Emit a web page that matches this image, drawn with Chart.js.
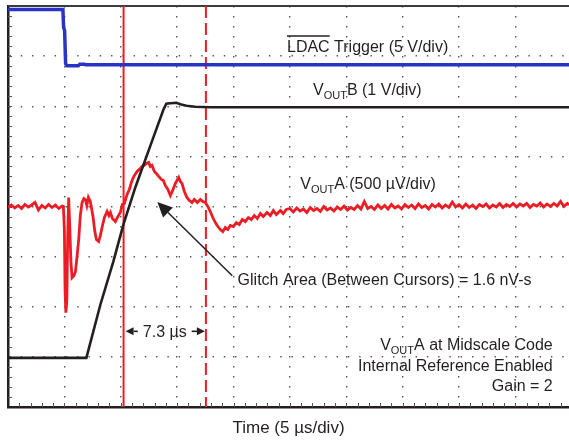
<!DOCTYPE html>
<html>
<head>
<meta charset="utf-8">
<title>VOUTA glitch</title>
<script src="https://cdn.jsdelivr.net/npm/chart.js@4.4.1/dist/chart.umd.min.js"></script>
<style>
  html, body { margin: 0; padding: 0; background: #fff; overflow: hidden; }
  canvas { display: block; }
</style>
</head>
<body>
<canvas id="scope" width="569" height="443"></canvas>
<script>
// Scope screen: time in µs (5 µs/div), t = 0 at the LDAC falling edge
const xGridTimes = [-5, 0, 5, 10, 15, 20, 25, 30, 35, 40];
const cursorTimes = [5.25, 12.55];

// LDAC trigger, volts (5 V/div)
const ldacTime  = [-5, -0.13, -0.07, 0.02, 0.11, 0.22, 1.24, 1.37, 1.77, 1.86, 44.75];
const ldacVolts = [5.5, 5.5, 3.7, 3.4, 0.1, -0.1, -0.1, 0.05, 0.05, 0, 0];

// VOUTB, volts (1 V/div)
const voutBTime  = [-5, 1.95, 3.19, 4.34, 5.23, 6.29, 7.62, 8.78, 9.04, 9.40, 9.93, 10.28, 10.82, 11.61, 12.94, 44.75];
const voutBVolts = [0, 0, 1.06, 1.92, 2.66, 3.40, 4.23, 4.95, 5.07, 5.08, 5.09, 5.06, 5.03, 5.01, 5.00, 5.00];

// VOUTA, µV around midscale (500 µV/div)
const voutATime = [
  -5, -4.7, -4.4, -4.1, -3.8, -3.5, -3.2, -2.9, -2.6, -2.3, -2.0, -1.7, -1.4, -1.1, -0.8, -0.5, -0.2, -0.09,
  0.0, 0.06, 0.13, 0.22, 0.29, 0.38, 0.47, 0.58, 0.68, 0.84,
  0.98, 1.11, 1.27, 1.42, 1.57, 1.73, 1.86, 1.99, 2.13, 2.30,
  2.54, 2.70, 2.84, 3.04, 3.19, 3.34, 3.55, 3.79, 3.95, 4.08,
  4.26, 4.52, 4.70, 4.96, 5.14, 5.32, 5.56, 5.76, 6.00, 6.21,
  6.45, 6.65, 6.89, 7.09, 7.27, 7.47, 7.62, 7.77, 7.98, 8.16,
  8.36, 8.60, 8.78, 8.95, 9.18, 9.40, 9.57, 9.84, 10.14, 10.28,
  10.43, 10.64, 10.87, 11.08, 11.32, 11.52, 11.79, 12.06, 12.28, 12.50,
  12.72, 12.94, 13.16, 13.39, 13.61, 13.83, 14.05, 14.27, 14.49, 14.72,
  14.98, 15.25, 15.51, 15.78, 16.05, 16.31, 16.58, 16.84, 17.11, 17.38,
  17.64, 17.97, 18.26, 18.53, 18.79, 19.15, 19.41, 19.68,
  20, 20.3, 20.6, 20.9, 21.2, 21.5, 21.8, 22.1, 22.4, 22.7,
  23, 23.3, 23.6, 23.9, 24.2, 24.5, 24.8, 25.1, 25.4, 25.7,
  26, 26.3, 26.6, 26.9, 27.2, 27.5, 27.8, 28.1, 28.4, 28.7,
  29, 29.3, 29.6, 29.9, 30.2, 30.5, 30.8, 31.1, 31.4, 31.7,
  32, 32.3, 32.6, 32.9, 33.2, 33.5, 33.8, 34.1, 34.4, 34.7,
  35, 35.3, 35.6, 35.9, 36.2, 36.5, 36.8, 37.1, 37.4, 37.7,
  38, 38.3, 38.6, 38.9, 39.2, 39.5, 39.8, 40.1, 40.4, 40.7,
  41, 41.3, 41.6, 41.9, 42.2, 42.5, 42.8, 43.1, 43.4, 43.7,
  44, 44.3, 44.6, 44.75
];
const voutAMicroV = [
  -10, 15, -15, 10, -20, 20, -5, 15, 40, -35, 10, -15, 20, -10, 15, -20, 5, 0,
  -230, -830, -1060, -930, -330, 90, -180, -550, -710, -690,
  -650, -510, -330, -80, 40, 80, 70, 10, 90, 50,
  -100, -250, -330, -350, -290, -210, -110, -50, -90, -60,
  -120, -150, -110, -60, 20, 30, 120, 170, 260, 310,
  350, 370, 400, 410, 430, 440, 400, 410, 350, 330,
  300, 270, 260, 210, 170, 110, 150, 230, 290, 250,
  230, 150, 90, 60, 40, 70, 40, 70, 50, 40,
  0, -50, -110, -160, -200, -230, -250, -210, -230, -190,
  -200, -160, -180, -130, -150, -110, -130, -90, -120, -70,
  -100, -60, -90, -40, -80, -40, -70, -30,
  -20, -55, -15, -45, -25, -60, -10, -40, -20, -50,
  0, -35, -15, -45, -5, -30, 5, -35, -10, -30,
  10, -25, 50, -20, 0, -30, 15, -20, 10, -25,
  20, -15, 5, -25, 20, -10, 15, -20, 25, -10,
  10, -25, 20, -5, 25, -15, 15, -10, 45, -5,
  20, -15, 25, -10, 15, -20, 20, 0, 25, -15,
  15, -5, 30, -10, 20, 0, 30, -5, 25, 5,
  30, -10, 20, 5, 35, -5, 25, 0, 30, 5,
  50, 0, 30, 15
];

// where each channel sits on the screen (divisions from bottom) and units per division
const chLdac = {offset: 6.83, perDiv: 5};
const chB = {offset: 0.98, perDiv: 1};
const chA = {offset: 4.0, perDiv: 500};

function toPoints(times, vals, ch) {
  return times.map((t, i) => ({x: t, y: ch.offset + vals[i] / ch.perDiv}));
}

const INK = '#231f20';
const RED = '#ec1c24';
const FONT = '"Liberation Sans", Arial, Helvetica, sans-serif';
Chart.defaults.font.family = FONT;

// label anchors, in screen units (µs, div)
const ldacLabel = {t: 19.74, div: 7.09};
const voutBLabel = {t: 22.05, div: 6.23};
const voutALabel = {t: 20.92, div: 4.34};
const glitchLabel = {t: 15.36, div: 2.43};
const glitchArrow = {from: [14.89, 2.62], to: [8.24, 4.09]};
const cursorLabelDiv = 1.51;
const noteLabel = {t: 43.31, div: 1.14};

function richText(ctx, parts, x, y, align) {
  let w = 0;
  parts.forEach(p => {
    ctx.font = (p.sub ? 11 : 16) + 'px ' + FONT;
    w += ctx.measureText(p.t).width;
  });
  let cx = align === 'right' ? x - w : (align === 'center' ? x - w / 2 : x);
  const start = cx;
  parts.forEach(p => {
    ctx.font = (p.sub ? 11 : 16) + 'px ' + FONT;
    ctx.fillText(p.t, cx, p.sub ? y + 4 : y);
    cx += ctx.measureText(p.t).width;
  });
  return {left: start, right: cx};
}

function arrow(ctx, x1, y1, x2, y2, len, half) {
  const a = Math.atan2(y2 - y1, x2 - x1);
  const bx = x2 - len * Math.cos(a), by = y2 - len * Math.sin(a);
  ctx.beginPath();
  ctx.moveTo(x1, y1);
  ctx.lineTo(bx, by);
  ctx.stroke();
  ctx.beginPath();
  ctx.moveTo(x2, y2);
  ctx.lineTo(bx + half * Math.sin(a), by - half * Math.cos(a));
  ctx.lineTo(bx - half * Math.sin(a), by + half * Math.cos(a));
  ctx.closePath();
  ctx.fill();
}

const scopeDecor = {
  id: 'scopeDecor',
  beforeDatasetsDraw(chart) {
    const {ctx, chartArea: a, scales: {x, y}} = chart;
    ctx.save();
    // top edge of the graticule
    ctx.strokeStyle = '#3c3c3c';
    ctx.lineWidth = 2;
    ctx.beginPath();
    ctx.moveTo(a.left, a.top);
    ctx.lineTo(a.right, a.top);
    ctx.stroke();
    // minor ticks on left and bottom edges
    ctx.strokeStyle = '#555';
    ctx.lineWidth = 1;
    ctx.beginPath();
    const dy = (y.getPixelForValue(0) - y.getPixelForValue(1)) / 5;
    for (let p = a.bottom - dy; p > a.top + 1; p -= dy) {
      ctx.moveTo(a.left, Math.round(p) + 0.5);
      ctx.lineTo(a.left + 4, Math.round(p) + 0.5);
    }
    const dx = (x.getPixelForValue(5) - x.getPixelForValue(0)) / 5;
    for (let p = a.left + dx; p < a.right; p += dx) {
      ctx.moveTo(Math.round(p) + 0.5, a.bottom);
      ctx.lineTo(Math.round(p) + 0.5, a.bottom - 4);
    }
    ctx.stroke();
    ctx.restore();
  },
  afterDatasetsDraw(chart) {
    const {ctx, scales: {x, y}} = chart;
    ctx.save();
    ctx.fillStyle = INK;
    ctx.strokeStyle = INK;
    ctx.textBaseline = 'alphabetic';
    ctx.textAlign = 'left';

    // LDAC (with overbar)
    const lx = x.getPixelForValue(ldacLabel.t), ly = y.getPixelForValue(ldacLabel.div);
    ctx.font = '16px ' + FONT;
    ctx.fillText('LDAC Trigger (5 V/div)', lx, ly);
    const barW = ctx.measureText('LDAC').width;
    ctx.lineWidth = 1.5;
    ctx.beginPath();
    ctx.moveTo(lx, ly - 15.5);
    ctx.lineTo(lx + barW, ly - 15.5);
    ctx.stroke();

    richText(ctx, [{t: 'V'}, {t: 'OUT', sub: true}, {t: 'B (1 V/div)'}],
      x.getPixelForValue(voutBLabel.t), y.getPixelForValue(voutBLabel.div), 'left');
    richText(ctx, [{t: 'V'}, {t: 'OUT', sub: true}, {t: 'A (500 µV/div)'}],
      x.getPixelForValue(voutALabel.t), y.getPixelForValue(voutALabel.div), 'left');

    ctx.font = '16px ' + FONT;
    ctx.fillText('Glitch Area (Between Cursors) = 1.6 nV-s',
      x.getPixelForValue(glitchLabel.t), y.getPixelForValue(glitchLabel.div));
    ctx.lineWidth = 1.5;
    arrow(ctx, x.getPixelForValue(glitchArrow.from[0]), y.getPixelForValue(glitchArrow.from[1]),
      x.getPixelForValue(glitchArrow.to[0]), y.getPixelForValue(glitchArrow.to[1]), 15, 7);

    // cursor delta readout
    const c1 = x.getPixelForValue(cursorTimes[0]), c2 = x.getPixelForValue(cursorTimes[1]);
    const cy = y.getPixelForValue(cursorLabelDiv);
    const txt = (cursorTimes[1] - cursorTimes[0]).toFixed(1) + ' µs';
    ctx.font = '16px ' + FONT;
    const tw = ctx.measureText(txt).width;
    const mid = (c1 + c2) / 2;
    ctx.fillText(txt, mid - tw / 2, cy + 6);
    ctx.lineWidth = 1.6;
    arrow(ctx, mid - tw / 2 - 5, cy, c1 + 2, cy, 8, 4);
    arrow(ctx, mid + tw / 2 + 5, cy, c2 - 1, cy, 8, 4);

    // test conditions
    const nx = x.getPixelForValue(noteLabel.t), ny = y.getPixelForValue(noteLabel.div);
    richText(ctx, [{t: 'V'}, {t: 'OUT', sub: true}, {t: 'A at Midscale Code'}], nx, ny, 'right');
    ctx.textAlign = 'right';
    ctx.font = '16px ' + FONT;
    ctx.fillText('Internal Reference Enabled', nx, ny + 21);
    ctx.fillText('Gain = 2', nx, ny + 41);
    ctx.restore();
  }
};

new Chart(document.getElementById('scope'), {
  type: 'line',
  data: {
    datasets: [
      {
        label: 'LDAC Trigger',
        data: toPoints(ldacTime, ldacVolts, chLdac),
        borderColor: '#2a34c4',
        borderWidth: 3.5,
        pointRadius: 0,
        order: 1
      },
      {
        label: 'VOUTB',
        data: toPoints(voutBTime, voutBVolts, chB),
        borderColor: INK,
        borderWidth: 2.6,
        pointRadius: 0,
        order: 2
      },
      {
        label: 'VOUTA',
        data: toPoints(voutATime, voutAMicroV, chA),
        borderColor: RED,
        borderWidth: 2.8,
        pointRadius: 0,
        order: 3
      },
      {
        label: 'Cursor 1',
        data: [{x: cursorTimes[0], y: 0}, {x: cursorTimes[0], y: 8}],
        borderColor: RED,
        borderWidth: 2,
        pointRadius: 0,
        order: 5
      },
      {
        label: 'Cursor 2',
        data: [{x: cursorTimes[1], y: 8}, {x: cursorTimes[1], y: 0}],
        borderColor: RED,
        borderWidth: 2,
        borderDash: [12, 5],
        pointRadius: 0,
        order: 5
      }
    ]
  },
  options: {
    responsive: false,
    animation: false,
    layout: {padding: {left: 8, top: 6, right: 0, bottom: 0}},
    plugins: {legend: {display: false}, tooltip: {enabled: false}},
    scales: {
      x: {
        type: 'linear',
        min: -5,
        max: 44.75,
        afterBuildTicks: (scale) => { scale.ticks = xGridTimes.map(v => ({value: v})); },
        ticks: {display: false},
        grid: {color: '#555', lineWidth: 1.4, drawTicks: false},
        border: {display: true, color: INK, width: 2.5, dash: [1.4, 8.6]},
        title: {
          display: true,
          text: 'Time (5 µs/div)',
          color: INK,
          font: {size: 17},
          padding: {top: 11, bottom: 4.6}
        }
      },
      y: {
        type: 'linear',
        min: 0,
        max: 8,
        ticks: {display: false, stepSize: 1},
        grid: {color: '#555', lineWidth: 1.4, drawTicks: false},
        border: {display: true, color: INK, width: 2.5, dash: [1.4, 9.88]}
      }
    }
  },
  plugins: [scopeDecor]
});
</script>
</body>
</html>
